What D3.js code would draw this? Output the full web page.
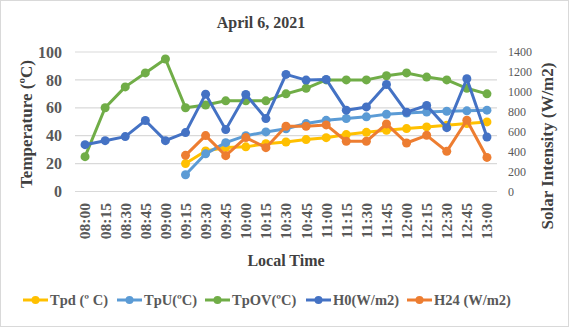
<!DOCTYPE html>
<html><head><meta charset="utf-8">
<script src="https://cdn.jsdelivr.net/npm/d3@7"></script>
<style>body{margin:0;background:#fff}svg{display:block}text{font-family:"Liberation Serif","Times New Roman",serif}</style>
</head><body><svg id="c" width="569" height="327"></svg>
<script>
const categories = ["08:00","08:15","08:30","08:45","09:00","09:15","09:30","09:45","10:00","10:15","10:30","10:45","11:00","11:15","11:30","11:45","12:00","12:15","12:30","12:45","13:00"];
const Tpd  = [null,null,null,null,null,20,29,31.5,32,34.3,35.5,37.2,38.6,40.8,42.4,43.9,45.1,46.3,47.5,48.7,49.9];
const TpU  = [null,null,null,null,null,12,27,35,40,42.7,45,48.7,51,52.3,53.5,55.4,56.3,57,57.5,57.8,58.3];
const TpOV = [25,60,75,85,95,60,62,65,65,65,70,74,80,80,80,83,85,82,80,74,70];
const H0   = [470,510,551,712,510,591,977,621,974,732,1175,1118,1125,816,849,1074,796,863,641,1131,547];
const H24  = [null,null,null,null,null,363,561,360,541,440,655,655,668,504,504,678,487,564,403,715,342];
const leftTicks = [0,20,40,60,80,100];
const rightTicks = [0,200,400,600,800,1000,1200,1400];

const series = [
  {name:"Tpd (º C)", data:Tpd, color:"#FFC000", axis:"L"},
  {name:"TpU(ºC)", data:TpU, color:"#5B9BD5", axis:"L"},
  {name:"TpOV(ºC)", data:TpOV, color:"#70AD47", axis:"L"},
  {name:"H0(W/m2)", data:H0, color:"#4472C4", axis:"R"},
  {name:"H24 (W/m2)", data:H24, color:"#ED7D31", axis:"R"}
];

const svg = d3.select("#c");
svg.append("rect").attr("x",0.5).attr("y",0.5).attr("width",568).attr("height",326).attr("fill","#fff").attr("stroke","#d9d9d9");

const x = d3.scaleBand().domain(categories).range([75,497]);
const yL = d3.scaleLinear().domain([0,100]).range([191.5,52]);
const yR = d3.scaleLinear().domain([0,1400]).range([191.5,52]);

svg.append("g").selectAll("line").data(leftTicks).join("line")
  .attr("x1",75).attr("x2",497).attr("y1",d=>yL(d)).attr("y2",d=>yL(d))
  .attr("stroke","#d9d9d9").attr("stroke-width",1.2);

const gl = svg.append("g").attr("transform","translate(62,0)")
  .call(d3.axisLeft(yL).tickValues(leftTicks).tickSize(0).tickPadding(0));
gl.attr("font-family",null);
gl.select(".domain").remove();
gl.selectAll("text").attr("font-size",16).attr("font-weight","bold").attr("fill","#595959");

const gr = svg.append("g").attr("transform","translate(508,0)")
  .call(d3.axisRight(yR).tickValues(rightTicks).tickFormat(d3.format("d")).tickSize(0).tickPadding(0));
gr.attr("font-family",null);
gr.select(".domain").remove();
gr.selectAll("text").attr("font-size",12).attr("fill","#595959");

const gx = svg.append("g").attr("transform","translate(0,203)")
  .call(d3.axisBottom(x).tickSize(0).tickPadding(0));
gx.attr("font-family",null);
gx.select(".domain").remove();
gx.selectAll("text").attr("font-size",15.5).attr("font-weight","bold").attr("fill","#595959")
  .attr("text-anchor","end").attr("dy","0.35em").attr("transform","rotate(-90)").attr("x",0).attr("y",0);

series.forEach(s=>{
  const ys = s.axis==="L"?yL:yR;
  const pts = categories.map((c,i)=>({c,v:s.data[i]})).filter(p=>p.v!=null);
  const line = d3.line().x(p=>x(p.c)+x.bandwidth()/2).y(p=>ys(p.v));
  const g = svg.append("g");
  g.append("path").attr("d",line(pts)).attr("fill","none").attr("stroke",s.color)
    .attr("stroke-width",3).attr("stroke-linejoin","round");
  g.selectAll("circle").data(pts).join("circle")
    .attr("cx",p=>x(p.c)+x.bandwidth()/2).attr("cy",p=>ys(p.v)).attr("r",4.5).attr("fill",s.color);
});

svg.append("text").attr("x",261).attr("y",28).attr("text-anchor","middle")
  .attr("font-size",16).attr("font-weight","bold").attr("fill","#404040").text("April 6, 2021");
svg.append("text").attr("transform","translate(32,124) rotate(-90)").attr("text-anchor","middle")
  .attr("font-size",17).attr("font-weight","bold").attr("fill","#404040").text("Temperature (ºC)");
svg.append("text").attr("transform","translate(553,146) rotate(-90)").attr("text-anchor","middle")
  .attr("font-size",17).attr("font-weight","bold").attr("fill","#404040").text("Solar Intensity (W/m2)");
svg.append("text").attr("x",286).attr("y",266).attr("text-anchor","middle")
  .attr("font-size",16).attr("font-weight","bold").attr("fill","#404040").text("Local Time");

const legX = [23,117,205,306,407];
const lg = svg.append("g");
series.forEach((s,i)=>{
  const g = lg.append("g").attr("transform",`translate(${legX[i]},300)`);
  g.append("line").attr("x1",0).attr("x2",25).attr("stroke",s.color).attr("stroke-width",3);
  g.append("circle").attr("cx",12.5).attr("r",4).attr("fill",s.color);
  g.append("text").attr("x",27).attr("dy","0.35em").attr("font-size",14.5).attr("font-weight","bold")
    .attr("fill","#595959").text(s.name);
});
</script></body></html>
